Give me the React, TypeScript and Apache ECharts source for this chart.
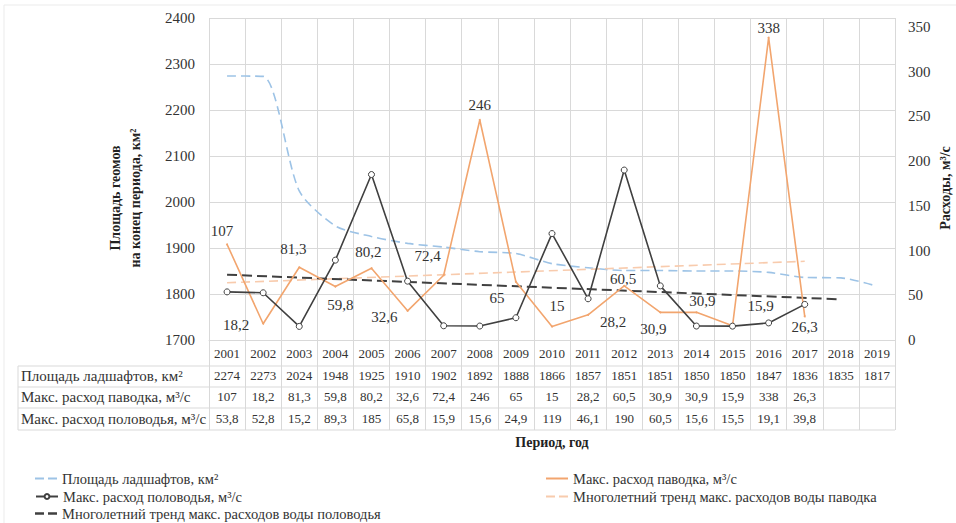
import React, { useEffect, useRef } from "react";
import * as echarts from "echarts";

const years = ["2001","2002","2003","2004","2005","2006","2007","2008","2009","2010","2011","2012","2013","2014","2015","2016","2017","2018","2019"];
const areaKm2 = [2274, 2273, 2024, 1948, 1925, 1910, 1902, 1892, 1888, 1866, 1857, 1851, 1851, 1850, 1850, 1847, 1836, 1835, 1817];
const floodMax = [107, 18.2, 81.3, 59.8, 80.2, 32.6, 72.4, 246, 65, 15, 28.2, 60.5, 30.9, 30.9, 15.9, 338, 26.3];
const springMax = [53.8, 52.8, 15.2, 89.3, 185, 65.8, 15.9, 15.6, 24.9, 119, 46.1, 190, 60.5, 15.6, 15.5, 19.1, 39.8];
const floodTrend = [64, null, null, null, null, null, null, null, null, null, null, null, null, null, null, null, 88];
const springTrend = [73, null, null, null, null, null, null, null, null, null, null, null, null, null, null, null, null, 45.5];

const leftAxis = { min: 1700, max: 2400, interval: 100 };
const rightAxis = { min: 0, max: 360, interval: 50 };

const rowTitles = ["Площадь ладшафтов, км²", "Макс. расход паводка, м³/с", "Макс. расход половодья, м³/с"];
const seriesNames = {
  area: "Площадь ладшафтов, км²",
  flood: "Макс. расход паводка, м³/с",
  spring: "Макс. расход половодья, м³/с",
  floodTrend: "Многолетний тренд макс. расходов воды паводка",
  springTrend: "Многолетний тренд макс. расходов воды половодья",
};

// label placement (style only)
const floodLabelPlacement: [string, number[]][] = [
  ["top", [-5, 0]],
  ["left", [-8, 1]],
  ["top", [-6, -5]],
  ["bottom", [5, 5]],
  ["top", [-3, -3]],
  ["left", [-4, 6]],
  ["top", [-16, -6]],
  ["top", [0, -1]],
  ["bottom", [-19, 3]],
  ["top", [5, -7]],
  ["right", [6, 7]],
  ["top", [-1, 7]],
  ["bottom", [-7, 3]],
  ["top", [6, 2]],
  ["top", [28, -6]],
  ["top", [0, 4]],
  ["bottom", [0, -3]],
];

const FONT = "Liberation Serif";
const TXT = "#333333";
const GRIDC = "#d9d9d9";

const DASH_ICON = "path://M0,0h9v2h-9z M13,0h9v2h-9z";
const DASH_ICON_BOLD = "path://M0,0h9v2.6h-9z M13,0h9v2.6h-9z";
const SOLID_ICON = "path://M0,0h22v2h-22z";

const fmt = (v: any) => (v === null || v === undefined || v === "" ? "" : String(v).replace(".", ","));

export default function App() {
  const ref = useRef<HTMLDivElement>(null);
  useEffect(() => {
    if (!ref.current) return;
    const chart = echarts.init(ref.current, undefined, { renderer: "svg" });

    const tableRows = [areaKm2, floodMax, springMax];
    const rowOffsets = [23, 44, 66];
    const rowCenters = [376, 397, 419];

    const extraX = tableRows.map((row, i) => ({
      type: "category",
      gridIndex: 0,
      position: "bottom",
      offset: rowOffsets[i],
      data: years,
      boundaryGap: true,
      axisLine: { show: false },
      axisTick: { show: false },
      splitLine: { show: false },
      axisLabel: {
        interval: 0,
        margin: 6,
        fontFamily: FONT,
        fontSize: 13,
        color: TXT,
        formatter: (_v: string, idx: number) => fmt(row[idx]),
      },
      ...(i === 2
        ? {
            name: "Период, год",
            nameLocation: "middle",
            nameGap: 29,
            nameTextStyle: { fontFamily: FONT, fontSize: 14, fontWeight: "bold", color: "#222" },
          }
        : {}),
    }));

    const legendItem = (name: string, left: number, top: number, icon?: string, itemHeight = 10) => ({
      orient: "horizontal",
      left,
      top,
      padding: 0,
      itemWidth: 22,
      itemHeight,
      itemGap: 0,
      textStyle: { fontFamily: FONT, fontSize: 14.5, color: TXT },
      data: [icon ? { name, icon } : { name }],
    });

    const option: any = {
      animation: false,
      backgroundColor: "#ffffff",
      textStyle: { fontFamily: FONT },
      grid: { left: 209, right: 61, top: 18, bottom: 183, outerBoundsMode: "none" },
      xAxis: [
        {
          type: "category",
          data: years,
          boundaryGap: true,
          axisLine: { show: true, lineStyle: { color: GRIDC, width: 1 } },
          axisTick: { show: true, inside: false, length: 90, lineStyle: { color: GRIDC } },
          splitLine: { show: true, lineStyle: { color: GRIDC, width: 1 } },
          axisLabel: { interval: 0, margin: 6.5, fontFamily: FONT, fontSize: 13, color: TXT },
        },
        ...extraX,
      ],
      yAxis: [
        {
          type: "value",
          min: leftAxis.min,
          max: leftAxis.max,
          interval: leftAxis.interval,
          axisLine: { show: false },
          axisTick: { show: false },
          splitLine: { show: true, lineStyle: { color: GRIDC, width: 1 } },
          axisLabel: { margin: 14, fontFamily: FONT, fontSize: 15, color: TXT, formatter: (v: number) => String(v) },
        },
        {
          type: "value",
          position: "right",
          min: rightAxis.min,
          max: rightAxis.max,
          interval: rightAxis.interval,
          axisLine: { show: false },
          axisTick: { show: false },
          splitLine: { show: false },
          axisLabel: { margin: 13, fontFamily: FONT, fontSize: 15, color: TXT, showMaxLabel: false, formatter: (v: number) => String(v) },
        },
      ],
      legend: [
        legendItem(seriesNames.area, 35, 471, DASH_ICON),
        legendItem(seriesNames.spring, 35, 489, undefined, 6),
        legendItem(seriesNames.springTrend, 35, 506, DASH_ICON_BOLD),
        legendItem(seriesNames.flood, 546, 471, SOLID_ICON),
        legendItem(seriesNames.floodTrend, 546, 489, DASH_ICON),
      ],
      series: [
        {
          name: seriesNames.area,
          type: "line",
          yAxisIndex: 0,
          data: areaKm2,
          smooth: 0.25,
          symbol: "none",
          lineStyle: { color: "#9DC3E6", width: 1.6, type: [9, 5] },
          itemStyle: { color: "#9DC3E6" },
          z: 2,
        },
        {
          name: seriesNames.floodTrend,
          type: "line",
          yAxisIndex: 1,
          data: floodTrend,
          connectNulls: true,
          symbol: "none",
          lineStyle: { color: "#F8CBAD", width: 1.6, type: [9, 5] },
          itemStyle: { color: "#F8CBAD" },
          z: 2,
        },
        {
          name: seriesNames.springTrend,
          type: "line",
          yAxisIndex: 1,
          data: springTrend,
          connectNulls: true,
          symbol: "none",
          lineStyle: { color: "#404040", width: 2, type: [10, 5] },
          itemStyle: { color: "#404040" },
          z: 3,
        },
        {
          name: seriesNames.flood,
          type: "line",
          yAxisIndex: 1,
          symbol: "circle",
          symbolSize: 2,
          showSymbol: true,
          lineStyle: { color: "#F2A56E", width: 1.6 },
          itemStyle: { color: "#F2A56E" },
          data: floodMax.map((v, i) => ({
            value: v,
            label: {
              position: floodLabelPlacement[i][0],
              offset: floodLabelPlacement[i][1],
            },
          })),
          label: {
            show: true,
            fontFamily: FONT,
            fontSize: 15,
            color: "#333",
            formatter: (p: any) => fmt(p.value),
          },
          z: 4,
        },
        {
          name: seriesNames.spring,
          type: "line",
          yAxisIndex: 1,
          data: springMax,
          symbol: "circle",
          symbolSize: 6,
          showSymbol: true,
          lineStyle: { color: "#404040", width: 1.6 },
          itemStyle: { color: "#ffffff", borderColor: "#404040", borderWidth: 1 },
          z: 5,
        },
      ],
      graphic: [
        {
          type: "rect",
          shape: { x: 4, y: 5, width: 1000, height: 700 },
          style: { fill: "none", stroke: "#ebebeb", lineWidth: 1 },
          silent: true,
          z: -10,
        },
        {
          type: "text",
          x: 125,
          y: 198,
          rotation: Math.PI / 2,
          style: {
            text: "Площадь геомов\nна конец периода, км²",
            fontFamily: FONT,
            fontSize: 14,
            fontWeight: "bold",
            fill: "#222",
            align: "center",
            verticalAlign: "middle",
            lineHeight: 20,
          },
        },
        {
          type: "text",
          x: 945,
          y: 188,
          rotation: Math.PI / 2,
          style: {
            text: "Расходы, м³/с",
            fontFamily: FONT,
            fontSize: 14,
            fontWeight: "bold",
            fill: "#222",
            align: "center",
            verticalAlign: "middle",
          },
        },
        ...[366, 387, 408, 430].map((y) => ({
          type: "line",
          shape: { x1: 18, y1: y, x2: 895, y2: y },
          style: { stroke: GRIDC, lineWidth: 1 },
          silent: true,
        })),
        {
          type: "line",
          shape: { x1: 18, y1: 366, x2: 18, y2: 430 },
          style: { stroke: GRIDC, lineWidth: 1 },
          silent: true,
        },
        ...rowTitles.map((t, i) => ({
          type: "text",
          x: 21,
          y: rowCenters[i],
          style: {
            text: t,
            fontFamily: FONT,
            fontSize: 15,
            fill: TXT,
            align: "left",
            verticalAlign: "middle",
          },
        })),
      ],
    };
    chart.setOption(option);
    return () => chart.dispose();
  }, []);
  return (
    <div
      ref={ref}
      style={{ position: "fixed", left: 0, top: 0, width: 956, height: 523, background: "#fff" }}
    />
  );
}
